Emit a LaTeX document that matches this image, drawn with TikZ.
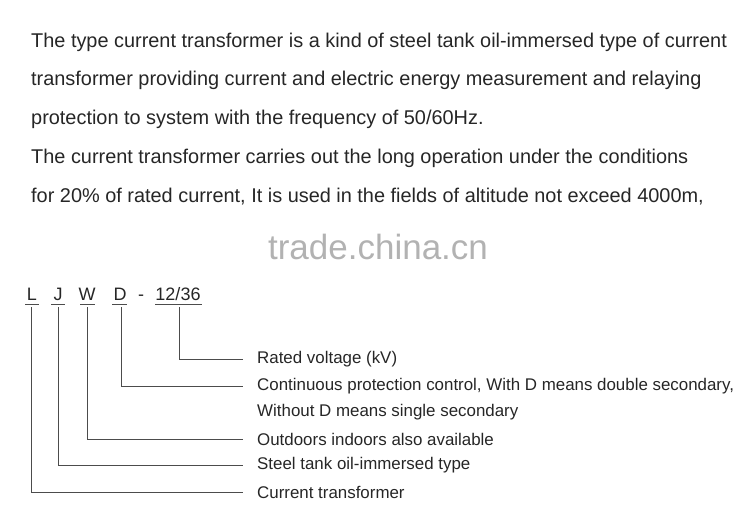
\documentclass[tikz,border=0pt]{standalone}
\usepackage{fontspec}
\setmainfont{Liberation Sans}
\begin{document}
\begin{tikzpicture}[x=1pt,y=-1pt,
  para/.style={anchor=west,inner sep=0,font=\fontsize{19.9}{22}\selectfont,text=black!85},
  lab/.style={anchor=west,inner sep=0,font=\fontsize{16.9}{19}\selectfont,text=black!85},
  code/.style={anchor=base,inner sep=0,font=\fontsize{18}{20}\selectfont,text=black!85},
  ln/.style={draw=black!70,line width=0.8pt}]
\useasboundingbox (0,0) rectangle (752,520);
\node[para] (p1) at (31,42) {The type current transformer is a kind of steel tank oil-immersed type of current};
\node[para] (p2) at (31,80) {transformer providing current and electric energy measurement and relaying};
\node[para] (p3) at (31,119) {protection to system with the frequency of 50/60Hz.};
\node[para] (p4) at (31,158) {The current transformer carries out the long operation under the conditions};
\node[para] (p5) at (31,197) {for 20\% of rated current, It is used in the fields of altitude not exceed 4000m,};
\node[inner sep=0,font=\fontsize{35}{38}\selectfont,text=black!30] (wm) at (378,247) {trade.china.cn};
\node[code] (cL) at (32,300) {L};
\node[code] (cJ) at (58,300) {J};
\node[code] (cW) at (87,300) {W};
\node[code] (cD) at (120,300) {D};
\node[code] (cdash) at (141,300) {-};
\node[code] (cV) at (178,300) {12/36};
\foreach \a/\b in {25/39,51/65,80/95,112/127,155/202}
  \draw[ln] (\a,304) -- (\b,304);
\node[lab] (t1) at (257,359) {Rated voltage (kV)};
\node[lab] (t2) at (257,386) {Continuous protection control, With D means double secondary,};
\node[lab] (t3) at (257,412) {Without D means single secondary};
\node[lab] (t4) at (257,439) {Outdoors indoors also available};
\node[lab] (t5) at (257,465) {Steel tank oil-immersed type};
\node[lab] (t6) at (257,492) {Current transformer};
\draw[ln] (179,307) |- ([xshift=-14pt]t1.west);
\draw[ln] (121,307) |- ([xshift=-14pt]t2.west);
\draw[ln] (87,307) |- ([xshift=-14pt]t4.west);
\draw[ln] (58,307) |- ([xshift=-14pt]t5.west);
\draw[ln] (31,307) |- ([xshift=-14pt]t6.west);
\end{tikzpicture}
\end{document}
